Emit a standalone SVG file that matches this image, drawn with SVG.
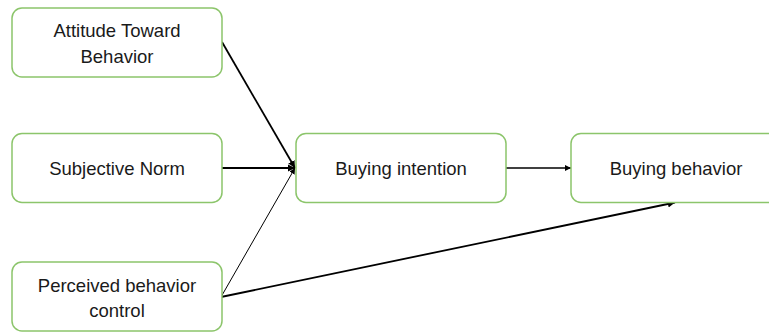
<svg xmlns="http://www.w3.org/2000/svg" width="769" height="332" viewBox="0 0 769 332">
<style>
.box{fill:#ffffff;stroke:#8cc56b;stroke-width:1.5}
.t{font-family:"Liberation Sans",Arial,sans-serif;font-size:18.5px;fill:#1a1a1a;text-anchor:middle}
.c{stroke:#000;fill:none}
</style>
<defs>
<marker id="ah" viewBox="0 0 10 10" refX="10" refY="5" markerWidth="4" markerHeight="4" orient="auto" markerUnits="strokeWidth">
<path d="M0,0 L10,5 L0,10 Z" fill="#000"/>
</marker>
<marker id="ah2" viewBox="0 0 10 10" refX="10" refY="5" markerWidth="6" markerHeight="6" orient="auto" markerUnits="strokeWidth">
<path d="M0,0 L10,5 L0,10 Z" fill="#000"/>
</marker>
</defs>
<rect width="769" height="332" fill="#ffffff"/>
<g id="connectors">
<line class="c" x1="222" y1="42" x2="295" y2="168" stroke-width="1.8" marker-end="url(#ah)"/>
<line class="c" x1="222" y1="168" x2="295" y2="168" stroke-width="1.8" marker-end="url(#ah)"/>
<line class="c" x1="221" y1="297" x2="295" y2="168" stroke-width="1" marker-end="url(#ah2)"/>
<line class="c" x1="506" y1="168" x2="571" y2="168" stroke-width="1.5" marker-end="url(#ah)"/>
<line class="c" x1="221" y1="297" x2="675" y2="202.5" stroke-width="1.8" marker-end="url(#ah)"/>
</g>
<g id="attitude">
<rect class="box" x="12" y="8" width="210" height="69" rx="10"/>
<text class="t" x="117" y="37">Attitude Toward</text>
<text class="t" x="117" y="62.5">Behavior</text>
</g>
<g id="subjective">
<rect class="box" x="12" y="133.5" width="210" height="69" rx="10"/>
<text class="t" x="117" y="175">Subjective Norm</text>
</g>
<g id="perceived">
<rect class="box" x="12" y="262" width="210" height="69" rx="10"/>
<text class="t" x="117" y="291.5">Perceived behavior</text>
<text class="t" x="117" y="316.5">control</text>
</g>
<g id="intention">
<rect class="box" x="296" y="133.5" width="210" height="69" rx="10"/>
<text class="t" x="401" y="175">Buying intention</text>
</g>
<g id="behavior">
<rect class="box" x="571" y="133.5" width="210" height="69" rx="10"/>
<text class="t" x="676" y="175">Buying behavior</text>
</g>
</svg>
